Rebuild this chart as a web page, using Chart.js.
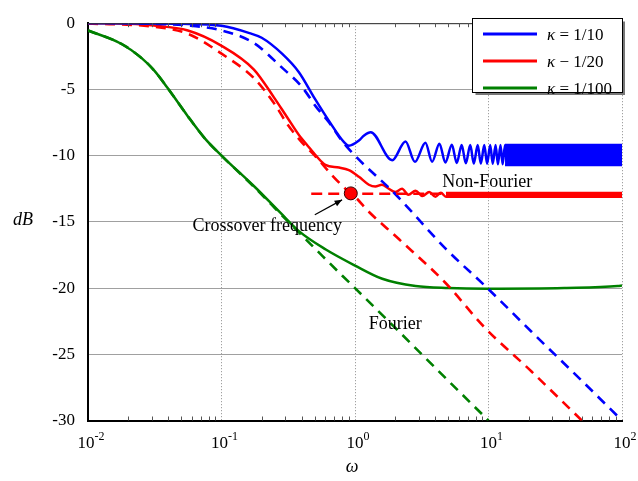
<!DOCTYPE html>
<html>
<head>
<meta charset="utf-8">
<script src="https://cdn.jsdelivr.net/npm/chart.js@4.4.1/dist/chart.umd.min.js"></script>
<style>
  html, body { margin: 0; padding: 0; background: #fff; }
</style>
</head>
<body>
<canvas id="myChart" width="638" height="481"></canvas>
<script>
// axis ticks
const xMajor = [0.01, 0.1, 1, 10, 100];
const xExp = ["-2", "-1", "0", "1", "2"];
const yTicks = [0, -5, -10, -15, -20, -25, -30];

// kappa = 1/10, non-Fourier (solid)
const blueNfW = [0.01, 0.05, 0.1, 0.162, 0.2, 0.284, 0.38, 0.5, 0.64, 0.83, 0.9, 1.07, 1.17, 1.31,
    1.9, 2.39, 2.81, 3.37, 3.78, 4.29, 4.75, 5.32, 5.78, 6.3, 6.76, 7.3, 7.76, 8.3, 8.76, 9.3,
    9.76, 10.3, 10.76, 11.3, 11.76, 12.3, 12.76, 13.3, 13.76, 14.3];
const blueNfDb = [0, -0.05, -0.2, -0.75, -1.1, -2.3, -3.7, -5.7, -7.4, -9.0, -9.25, -8.86, -8.48, -8.23,
    -10.35, -8.93, -10.47, -9.03, -10.47, -9.1, -10.52, -9.18, -10.55, -9.2, -10.58, -9.2, -10.6, -9.2, -10.6, -9.2,
    -10.62, -9.2, -10.62, -9.2, -10.65, -9.2, -10.65, -9.2, -10.68, -9.2];
// dense oscillation band at high frequency
const blueBandW = [13.3, 100];
const blueBandHi = [-9.2, -9.2];
const blueBandLo = [-10.7, -10.7];
// kappa = 1/10, Fourier (dashed)
const blueFW = [0.01, 0.03, 0.056, 0.1, 0.175, 0.28, 0.4, 0.51, 0.64, 0.8, 1.0, 2.0, 4.75, 9.8, 21, 50, 100];
const blueFDb = [0, -0.05, -0.17, -0.55, -1.5, -3.3, -4.8, -6.3, -7.5, -8.9, -10.0, -12.9, -17.0, -20.0, -23.3, -27.0, -30.0];

// kappa = 1/20
const redNfW = [0.01, 0.02, 0.031, 0.056, 0.098, 0.175, 0.247, 0.31, 0.39, 0.43, 0.51, 0.6, 0.76, 0.9, 1.07,
    1.27, 1.42, 1.59, 1.79, 2.0, 2.25, 2.51, 2.84, 3.2, 3.6, 4.0, 4.4, 4.8, 5.2];
const redNfDb = [0, -0.05, -0.17, -0.55, -1.65, -3.5, -5.6, -7.1, -8.6, -9.1, -10.0, -10.7, -10.9, -11.1, -11.6,
    -12.2, -12.34, -12.2, -12.5, -12.75, -12.5, -12.95, -12.65, -13.05, -12.75, -13.1, -12.8, -13.1, -12.82];
const redBandW = [4.8, 100];
const redBandHi = [-12.82, -12.82];
const redBandLo = [-13.1, -13.1];
const redFW = [0.01, 0.03, 0.056, 0.1, 0.175, 0.25, 0.31, 0.4, 0.5, 0.69, 0.87, 1.0, 1.23, 2.13, 4.75, 9.4, 21, 50];
const redFDb = [-0.02, -0.25, -0.8, -2.3, -4.15, -6.1, -7.6, -9.0, -10.0, -11.6, -12.6, -13.1, -14.1, -16.3, -19.6, -23.0, -26.3, -30.0];

// kappa = 1/100
const greenNfW = [0.01, 0.0177, 0.025, 0.0315, 0.0395, 0.0557, 0.075, 0.1, 0.177, 0.277, 0.38, 0.6, 1.0, 1.6, 2.84, 5.0, 9.8, 37, 93, 100];
const greenNfDb = [-0.55, -1.55, -2.6, -3.6, -4.9, -7.0, -8.7, -10.0, -12.35, -14.33, -15.7, -17.07, -18.3, -19.3, -19.85, -20.0, -20.05, -20.0, -19.85, -19.8];
const greenFW = [0.01, 0.0177, 0.025, 0.0315, 0.0395, 0.0557, 0.075, 0.1, 0.177, 0.277, 0.38, 0.5, 0.8, 1.0, 2.0, 5.0, 10];
const greenFDb = [-0.55, -1.55, -2.6, -3.6, -4.9, -7.0, -8.7, -10.0, -12.4, -14.4, -15.8, -17.0, -19.05, -20.0, -23.0, -27.0, -30.0];

// crossover: horizontal dashed level and the marked point
const crossW = [0.47, 100];
const crossDb = [-12.88, -12.88];
const crossPtW = [0.93];
const crossPtDb = [-12.85];

const BLUE = "#0000ff";
const RED = "#ff0000";
const GREEN = "#008000";
const SERIF = "'Liberation Serif', 'Times New Roman', serif";

const pts = (w, d) => w.map((v, i) => ({ x: v, y: d[i] }));

function solid(w, d, color) {
    return {
        data: pts(w, d), borderColor: color, borderWidth: 2.5,
        pointRadius: 0, cubicInterpolationMode: "monotone", fill: false
    };
}
function dashed(w, d, color, dash) {
    return {
        data: pts(w, d), borderColor: color, borderWidth: 2.6, borderDash: dash || [10, 7],
        pointRadius: 0, cubicInterpolationMode: "monotone", fill: false
    };
}
function band(w, hi, lo, color) {
    return [
        { data: pts(w, hi), borderColor: color, backgroundColor: color, borderWidth: 2.5, pointRadius: 0, fill: "+1" },
        { data: pts(w, lo), borderColor: color, borderWidth: 2.5, pointRadius: 0, fill: false }
    ];
}

const decor = {
    id: "decor",
    afterDraw(chart) {
        const { ctx, chartArea: a, scales: { x, y } } = chart;
        ctx.save();

        // top frame
        ctx.strokeStyle = "#333";
        ctx.lineWidth = 1;
        ctx.beginPath();
        ctx.moveTo(a.left, a.top + 0.5);
        ctx.lineTo(a.right, a.top + 0.5);
        ctx.stroke();

        // minor ticks
        ctx.strokeStyle = "#555";
        for (let d = 0; d < 4; d++) {
            for (let k = 2; k <= 9; k++) {
                const px = Math.round(x.getPixelForValue(k * xMajor[d])) + 0.5;
                ctx.beginPath();
                ctx.moveTo(px, a.bottom);
                ctx.lineTo(px, a.bottom - 4);
                ctx.moveTo(px, a.top);
                ctx.lineTo(px, a.top + 4);
                ctx.stroke();
            }
        }

        // x tick labels 10^n
        ctx.fillStyle = "#000";
        ctx.textBaseline = "alphabetic";
        ctx.textAlign = "left";
        xMajor.forEach((v, i) => {
            const px = x.getPixelForValue(v);
            ctx.font = "17px " + SERIF;
            const w1 = ctx.measureText("10").width;
            ctx.font = "12px " + SERIF;
            const w2 = ctx.measureText(xExp[i]).width;
            const sx = px - (w1 + w2) / 2 + 3;
            ctx.font = "17px " + SERIF;
            ctx.fillText("10", sx, 448);
            ctx.font = "12px " + SERIF;
            ctx.fillText(xExp[i], sx + w1, 440);
        });

        // axis titles
        ctx.textAlign = "center";
        ctx.textBaseline = "middle";
        ctx.font = "italic 18px " + SERIF;
        ctx.fillText("dB", 23, 220);
        ctx.fillText("\u03c9", 352, 467);

        // annotations
        ctx.font = "18px " + SERIF;
        ctx.fillText("Crossover frequency", x.getPixelForValue(0.22), y.getPixelForValue(-15.3));
        ctx.fillText("Non-Fourier", x.getPixelForValue(9.8), y.getPixelForValue(-12.0));
        ctx.fillText("Fourier", x.getPixelForValue(2.0), y.getPixelForValue(-22.7));

        // arrow to crossover point
        const ax0 = x.getPixelForValue(0.5), ay0 = y.getPixelForValue(-14.46);
        const ax1 = x.getPixelForValue(0.8), ay1 = y.getPixelForValue(-13.34);
        const ang = Math.atan2(ay1 - ay0, ax1 - ax0);
        ctx.strokeStyle = "#000";
        ctx.lineWidth = 1.2;
        ctx.beginPath();
        ctx.moveTo(ax0, ay0);
        ctx.lineTo(ax1, ay1);
        ctx.stroke();
        ctx.beginPath();
        ctx.moveTo(ax1, ay1);
        ctx.lineTo(ax1 - 8 * Math.cos(ang - 0.4), ay1 - 8 * Math.sin(ang - 0.4));
        ctx.lineTo(ax1 - 8 * Math.cos(ang + 0.4), ay1 - 8 * Math.sin(ang + 0.4));
        ctx.closePath();
        ctx.fill();

        // legend
        const lx = 472.5, ly = 18.5, lw = 150, lh = 74;
        ctx.fillStyle = "#fff";
        ctx.fillRect(lx, ly, lw, lh);
        ctx.strokeStyle = "#777";
        ctx.lineWidth = 2;
        ctx.beginPath();
        ctx.moveTo(lx + lw + 1.5, ly + 3);
        ctx.lineTo(lx + lw + 1.5, ly + lh + 1.5);
        ctx.lineTo(lx + 3, ly + lh + 1.5);
        ctx.stroke();
        ctx.strokeStyle = "#000";
        ctx.lineWidth = 1;
        ctx.strokeRect(lx, ly, lw, lh);

        const items = [
            { c: BLUE, t: " = 1/10" },
            { c: RED, t: " \u2212 1/20" },
            { c: GREEN, t: " = 1/100" }
        ];
        items.forEach((it, i) => {
            const yy = 34 + i * 27;
            ctx.strokeStyle = it.c;
            ctx.lineWidth = 3;
            ctx.beginPath();
            ctx.moveTo(483, yy);
            ctx.lineTo(537, yy);
            ctx.stroke();
            ctx.fillStyle = "#000";
            ctx.textAlign = "left";
            ctx.textBaseline = "alphabetic";
            ctx.font = "italic 17px " + SERIF;
            ctx.fillText("\u03ba", 547, yy + 6);
            const kw = ctx.measureText("\u03ba").width;
            ctx.font = "17px " + SERIF;
            ctx.fillText(it.t, 547 + kw, yy + 6);
        });

        ctx.restore();
    }
};

const ctx = document.getElementById("myChart").getContext("2d");

new Chart(ctx, {
    type: "line",
    data: {
        datasets: [
            {
                data: pts(crossPtW, crossPtDb), showLine: false,
                pointRadius: 6.5, pointBackgroundColor: RED,
                pointBorderColor: "#300", pointBorderWidth: 1
            },
            dashed(crossW, crossDb, RED, [11, 6]),
            dashed(blueFW, blueFDb, BLUE),
            dashed(redFW, redFDb, RED),
            dashed(greenFW, greenFDb, GREEN),
            solid(blueNfW, blueNfDb, BLUE),
            ...band(blueBandW, blueBandHi, blueBandLo, BLUE),
            solid(redNfW, redNfDb, RED),
            ...band(redBandW, redBandHi, redBandLo, RED),
            solid(greenNfW, greenNfDb, GREEN)
        ]
    },
    options: {
        responsive: false,
        animation: false,
        layout: {
            padding: { top: 17.5, right: 16, left: 0, bottom: 0 }
        },
        plugins: {
            legend: { display: false },
            tooltip: { enabled: false }
        },
        scales: {
            x: {
                type: "logarithmic",
                min: 0.01,
                max: 100,
                afterBuildTicks: (axis) => {
                    axis.ticks = xMajor.map(v => ({ value: v }));
                },
                afterFit: (axis) => { axis.height = 60.5; },
                ticks: { display: false },
                grid: { color: "#8c8c8c", lineWidth: 1, drawTicks: false },
                border: { color: "#000", width: 2, dash: [1, 2] }
            },
            y: {
                min: -30,
                max: 0,
                afterBuildTicks: (axis) => {
                    axis.ticks = yTicks.map(v => ({ value: v }));
                },
                afterFit: (axis) => { axis.width = 88; },
                ticks: {
                    color: "#000",
                    padding: 13,
                    font: { family: SERIF, size: 17 }
                },
                grid: { color: "#a0a0a0", lineWidth: 1, drawTicks: false },
                border: { color: "#000", width: 2 }
            }
        }
    },
    plugins: [decor]
});
</script>
</body>
</html>
